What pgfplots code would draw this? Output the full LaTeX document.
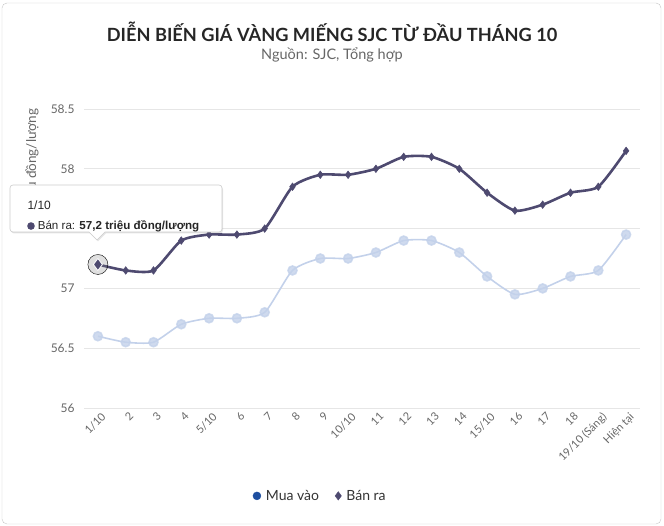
\documentclass[border=0pt]{standalone}
\usepackage{fontspec}
\setmainfont{Lato}
\newfontfamily\arialfont{Liberation Sans}
\usepackage{pgfplots}
\usepackage{pgfplotstable}
\pgfplotsset{compat=1.18}
\usetikzlibrary{shadows}

\definecolor{banra}{HTML}{4E4A70}
\definecolor{muafade}{HTML}{C3D1EA}
\definecolor{muadark}{HTML}{1E4FA0}
\definecolor{txtgray}{HTML}{666666}
\definecolor{gridgray}{HTML}{E6E6E6}

% x: 0 = 1/10 ... 19 = Hien tai
\pgfplotstableread{
x  banra  muavao
0  57.2   56.6
1  57.15  56.55
2  57.15  56.55
3  57.4   56.7
4  57.45  56.75
5  57.45  56.75
6  57.5   56.8
7  57.85  57.15
8  57.95  57.25
9  57.95  57.25
10 58.0   57.3
11 58.1   57.4
12 58.1   57.4
13 58.0   57.3
14 57.8   57.1
15 57.65  56.95
16 57.7   57.0
17 57.8   57.1
18 57.85  57.15
19 58.15  57.45
}\gia

\begin{document}
\begin{tikzpicture}
\path[use as bounding box] (0,0) rectangle (664pt,526pt);
\draw[gray!45, rounded corners=5pt] (2pt,2pt) rectangle (661pt,523pt);

\node[font=\fontsize{18.2}{21}\selectfont\bfseries, text=black!85] at (332pt,494pt)
  {DIỄN BIẾN GIÁ VÀNG MIẾNG SJC TỪ ĐẦU THÁNG 10};
\node[font=\fontsize{14.5}{17}\selectfont, text=txtgray] at (332pt,471pt)
  {Nguồn: SJC, Tổng hợp};
\node[rotate=90, anchor=east, font=\fontsize{13.5}{16}\selectfont, text=txtgray]
  at (32pt,421pt) {Triệu đồng/lượng};

\begin{axis}[
  at={(84pt,118pt)}, anchor=south west,
  scale only axis, width=556pt, height=299pt,
  xmin=-0.5, xmax=19.5, ymin=56, ymax=58.5,
  ytick={56,56.5,57,57.5,58,58.5},
  yticklabels={56,56.5,57,,58,58.5},
  xtick={0,...,19},
  xticklabels={1/10,2,3,4,5/10,6,7,8,9,10/10,11,12,13,14,15/10,16,17,18,19/10 (Sáng),Hiện tại},
  axis line style={draw=none},
  major tick length=0pt,
  ymajorgrids, grid style={gridgray, line width=0.8pt},
  /pgf/number format/assume math mode=true,
  yticklabel style={font=\fontsize{12}{14}\selectfont, text=txtgray, xshift=-6pt},
  xticklabel style={font=\fontsize{11}{12}\selectfont, text=txtgray, rotate=45, anchor=north east, inner sep=0.5pt, yshift=-4pt},
  clip=false,
  legend columns=2,
  legend style={at={(0.425,-0.294)}, anchor=center, draw=none, fill=none,
    font=\fontsize{14}{16}\selectfont, text=black!80,
    /tikz/every odd column/.append style={column sep=3pt},
    /tikz/every even column/.append style={column sep=14pt}},
  legend cell align=left,
]
\addplot[muafade, line width=1.6pt, smooth, tension=0.38, mark=*, mark size=4.5pt,
  mark options={fill=muafade, draw=none, opacity=0.8}, forget plot]
  table[x=x, y=muavao] {\gia};
\addplot[banra, line width=2.6pt, smooth, tension=0.38, mark=diamond*, mark size=3.8pt,
  mark options={fill=banra, draw=banra, line width=0.5pt}, forget plot]
  table[x=x, y=banra] {\gia};
% hover halo at 1/10
\addplot[only marks, mark=*, mark size=10pt, mark options={fill=gray, draw=none, fill opacity=0.25}, forget plot]
  coordinates {(0,57.2)};
\addplot[only marks, mark=diamond*, mark size=6pt, mark options={fill=banra, draw=white, line width=0.8pt}, forget plot]
  coordinates {(0,57.2)};
\addlegendimage{only marks, mark=*, mark size=4pt, muadark}
\addlegendentry{Mua vào}
\addlegendimage{only marks, mark=diamond*, mark size=4.2pt, banra}
\addlegendentry{Bán ra}
\end{axis}

% tooltip
\fill[white, drop shadow={opacity=0.2, shadow xshift=1pt, shadow yshift=-1.5pt}]
  (10pt,294pt) [rounded corners=3pt] -- (10pt,341pt) -- (222pt,341pt) -- (222pt,294pt)
  [sharp corners] -- (105pt,294pt) -- (97pt,286pt) -- (89pt,294pt) [rounded corners=3pt] -- cycle;
\draw[gray!40, line width=0.6pt]
  (10pt,294pt) [rounded corners=3pt] -- (10pt,341pt) -- (222pt,341pt) -- (222pt,294pt)
  [sharp corners] -- (105pt,294pt) -- (97pt,286pt) -- (89pt,294pt) [rounded corners=3pt] -- cycle;
\node[anchor=west, font=\arialfont\fontsize{12}{14}\selectfont, text=black!85] at (24pt,321pt) {1/10};
\node[anchor=west, font=\arialfont\fontsize{11.6}{14}\selectfont, text=black!85, inner sep=0pt] at (27pt,300pt)
  {\tikz[baseline=-3.2pt]\fill[banra] (0,0) circle (3.8pt);\hspace{3pt}Bán ra: \textbf{57,2 triệu đồng/lượng}};
\end{tikzpicture}
\end{document}
